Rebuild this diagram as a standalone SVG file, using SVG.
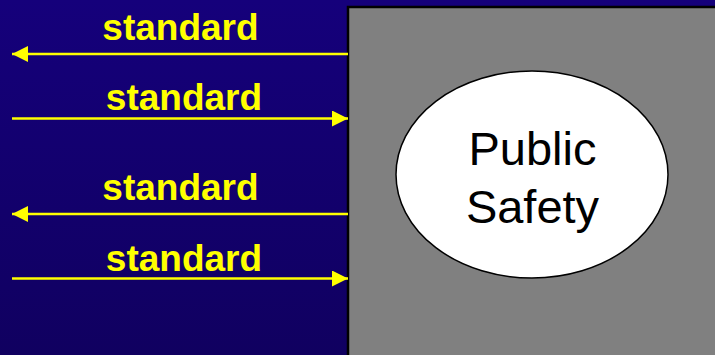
<svg xmlns="http://www.w3.org/2000/svg" width="715" height="355" viewBox="0 0 715 355">
<defs>
<linearGradient id="bg" x1="0" y1="0" x2="0" y2="1">
<stop offset="0" stop-color="#15007b"/>
<stop offset="1" stop-color="#100060"/>
</linearGradient>
<marker id="ah" viewBox="0 0 16 16" refX="16" refY="8" markerWidth="16" markerHeight="16" markerUnits="userSpaceOnUse" orient="auto">
<path d="M0,0 L16,8 L0,16 Z" fill="#ffff00"/>
</marker>
<style>
.lbl{font-family:"Liberation Sans",Arial,sans-serif;font-weight:bold;font-size:37px;fill:#ffff00;text-anchor:middle}
.conn{stroke:#ffff00;stroke-width:2.5;fill:none;marker-end:url(#ah)}
.ps{font-family:"Liberation Sans",Arial,sans-serif;font-size:47px;fill:#000;text-anchor:middle}
</style>
</defs>
<rect x="0" y="0" width="715" height="355" fill="url(#bg)"/>
<g id="public-safety-area">
<rect x="348" y="7" width="370" height="352" fill="#808080" stroke="#000" stroke-width="2.5"/>
</g>
<g id="public-safety">
<ellipse cx="532" cy="174.5" rx="136" ry="103.5" fill="#fff" stroke="#000" stroke-width="1.5"/>
<text class="ps" x="532.5" y="165">Public</text>
<text class="ps" x="532.5" y="223">Safety</text>
</g>
<g id="connectors">
<line class="conn" x1="348" y1="54" x2="12" y2="54"/>
<line class="conn" x1="12" y1="118.5" x2="348" y2="118.5"/>
<line class="conn" x1="348" y1="214" x2="12" y2="214"/>
<line class="conn" x1="12" y1="278.5" x2="348" y2="278.5"/>
<text class="lbl" x="180.5" y="39.5">standard</text>
<text class="lbl" x="184" y="110">standard</text>
<text class="lbl" x="180.5" y="199.5">standard</text>
<text class="lbl" x="184" y="270.5">standard</text>
</g>
</svg>
